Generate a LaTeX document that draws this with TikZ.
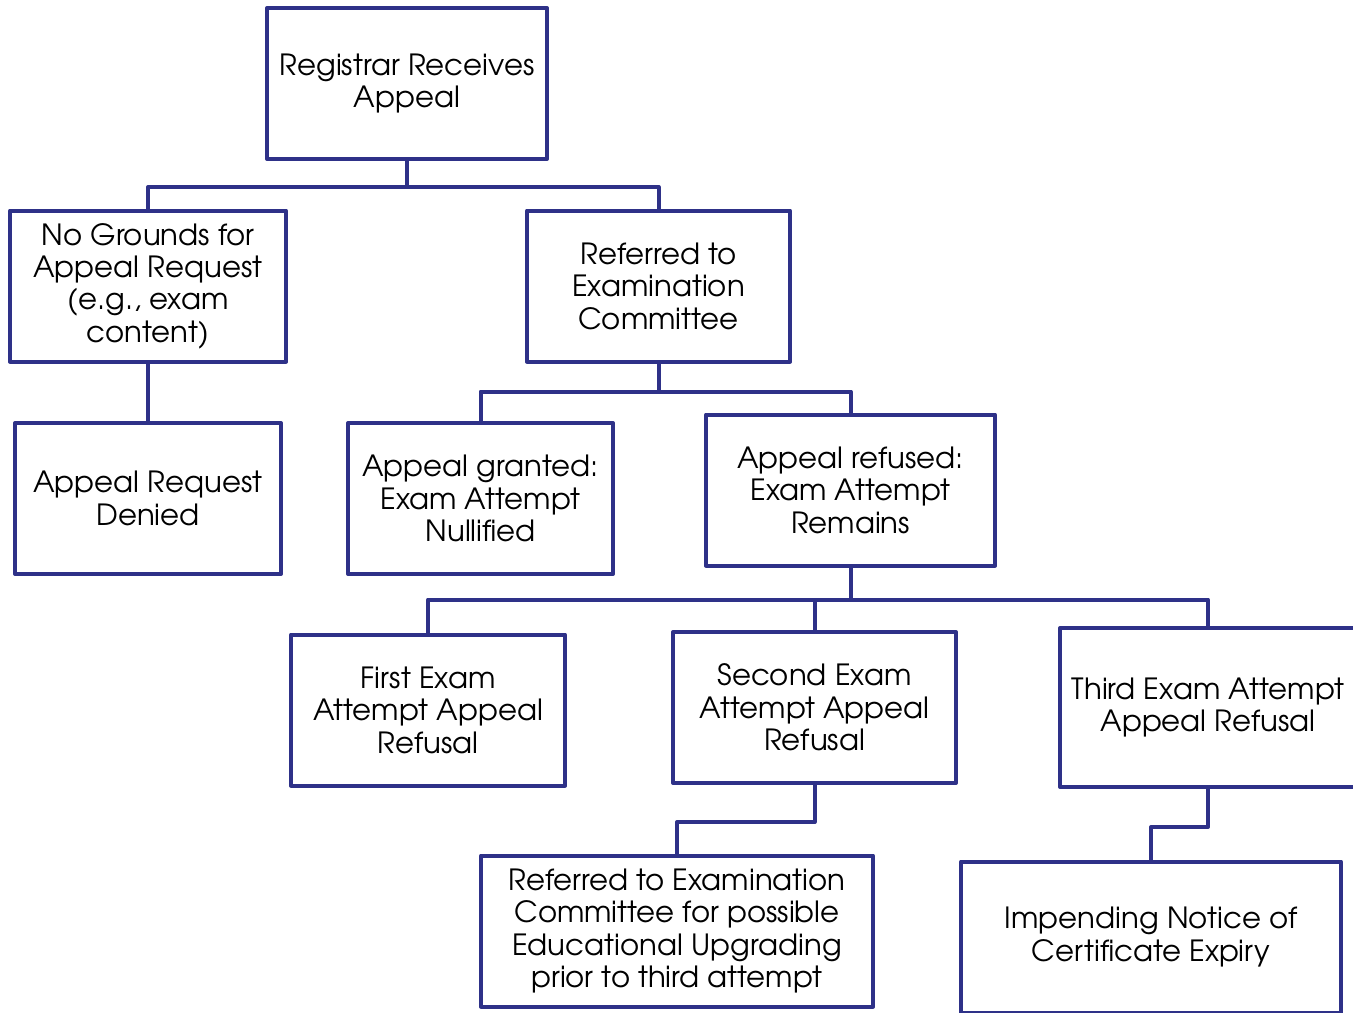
\documentclass[tikz,border=0pt]{standalone}
\usepackage{fontspec}
\setmainfont{TeX Gyre Adventor}
\usepackage{tikz}
\usetikzlibrary{positioning}
\definecolor{navy}{HTML}{2E3188}

\begin{document}
\begin{tikzpicture}[x=0.5pt, y=-0.5pt, font=\fontsize{14.6}{16.2}\selectfont, line width=2pt, line join=round]
    \tikzstyle{stage} = [rectangle, draw=navy, align=center, inner sep=2, minimum height=75.5pt]
    \tikzstyle{link}  = [draw=navy]
    \useasboundingbox (0,0) rectangle (1353,1012);

    \node[stage, minimum width=140pt]   (reg)   at (407,83.5)    {Registrar Receives\\Appeal};
    \node[stage, minimum width=138pt]   (nog)   at (148,286)     {No Grounds for\\Appeal Request\\(e.g., exam\\content)};
    \node[stage, minimum width=131.5pt] (com)   at (658.5,286)   {Referred to\\Examination\\Committee};
    \node[stage, minimum width=133pt]   (den)   at (148,498.5)   {Appeal Request\\Denied};
    \node[stage, minimum width=132.5pt] (gra)   at (480.5,498.5) {Appeal granted:\\Exam Attempt\\Nullified};
    \node[stage, minimum width=144.5pt] (rfd)   at (850.5,490)   {Appeal refused:\\Exam Attempt\\Remains};
    \node[stage, minimum width=137pt]   (first) at (428,710)     {First Exam\\Attempt Appeal\\Refusal};
    \node[stage, minimum width=141.5pt] (second) at (814.5,707.5) {Second Exam\\Attempt Appeal\\Refusal};
    \node[stage, minimum width=148pt, minimum height=79.5pt] (third) at (1208,707.5) {Third Exam Attempt\\Appeal Refusal};
    \node[stage, minimum width=196pt]   (upg)   at (677,931)     {Referred to Examination\\Committee for possible\\Educational Upgrading\\prior to third attempt};
    \node[stage, minimum width=190pt]   (imp)   at (1151,937)    {Impending Notice of\\Certificate Expiry};

    \draw[link] (reg.south) -- ++(0,26) -| (nog.north);
    \draw[link] (reg.south) -- ++(0,26) -| (com.north);
    \draw[link] (nog) -- (den);
    \draw[link] (com.south) -- ++(0,28) -| (gra.north);
    \draw[link] (com.south) -- ++(0,28) -| (rfd.north);
    \draw[link] (rfd.south) -- ++(0,32) -| (first.north);
    \draw[link] (rfd.south) -- ++(0,32) -| (second.north);
    \draw[link] (rfd.south) -- ++(0,32) -| (third.north);
    \draw[link] (second.south) -- ++(0,37) -| (upg.north);
    \draw[link] (third.south) -- ++(0,38) -| (imp.north);
  \end{tikzpicture}
\end{document}
